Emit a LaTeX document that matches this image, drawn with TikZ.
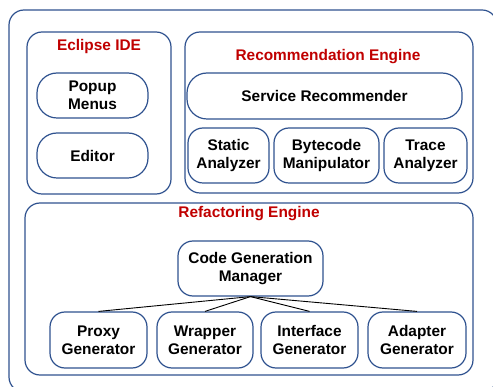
\documentclass[tikz,border=0pt]{standalone}
\usepackage{fontspec}
\setmainfont{Liberation Sans}
\definecolor{edge}{HTML}{2F528F}
\definecolor{title}{HTML}{C00000}
\tikzset{
  unit/.style={draw=edge, line width=1.2pt, rounded corners=15pt, fill=white,
    align=center, inner sep=0pt, font=\fontsize{15.4}{18}\selectfont\bfseries},
  group/.style={draw=edge, line width=1.2pt, rounded corners=15pt},
  heading/.style={text=title, font=\fontsize{15.4}{18}\selectfont\bfseries, inner sep=0pt},
  link/.style={draw=black, line width=0.9pt}
}
\begin{document}
\begin{tikzpicture}[x=1pt, y=-1pt]
\useasboundingbox (0,0) rectangle (493,387);
% outer frame, running past the right and bottom edges
\begin{scope}
\clip (0,0) rectangle (493,387);
\node[group, minimum width=488pt, minimum height=382pt] (frame) at (253,201) {};
\end{scope}

% Eclipse IDE
\node[group, minimum width=144pt, minimum height=162pt] (ide) at (99,113) {};
\node[heading] (idet) at (99,47) {Eclipse IDE};
\node[unit, minimum width=111pt, minimum height=45pt, rounded corners=20pt] (popup) at (92.5,95.5) {Popup\\Menus};
\node[unit, minimum width=111pt, minimum height=45pt, rounded corners=20pt] (editor) at (92.5,155.5) {Editor};

% Recommendation Engine
\node[group, minimum width=288pt, minimum height=161pt] (rec) at (329,112.5) {};
\node[heading] (rect) at (328,57) {Recommendation Engine};
\node[unit, minimum width=275pt, minimum height=46pt, rounded corners=20pt] (service) at (324.5,96) {Service Recommender};
\node[unit, minimum width=81pt, minimum height=55pt] (static) at (228.5,155.5) {Static\\Analyzer};
\node[unit, minimum width=105pt, minimum height=55pt] (bytecode) at (326.5,155.5) {Bytecode\\Manipulator};
\node[unit, minimum width=83pt, minimum height=55pt] (trace) at (425.5,155.5) {Trace\\Analyzer};

% Refactoring Engine
\node[group, minimum width=448pt, minimum height=172pt] (ref) at (249,289) {};
\node[heading] (reft) at (249,214) {Refactoring Engine};
\node[unit, minimum width=145pt, minimum height=55pt] (cgm) at (250.5,268.5) {Code Generation\\Manager};
\node[unit, minimum width=97pt, minimum height=56pt] (proxy) at (98.5,340) {Proxy\\Generator};
\node[unit, minimum width=96pt, minimum height=56pt] (wrapper) at (205,340) {Wrapper\\Generator};
\node[unit, minimum width=97pt, minimum height=56pt] (iface) at (309.5,340) {Interface\\Generator};
\node[unit, minimum width=98pt, minimum height=56pt] (adapter) at (417,340) {Adapter\\Generator};

\foreach \g in {proxy, wrapper, iface, adapter}
  \draw[link] (cgm.south) -- (\g.north);
\end{tikzpicture}
\end{document}
